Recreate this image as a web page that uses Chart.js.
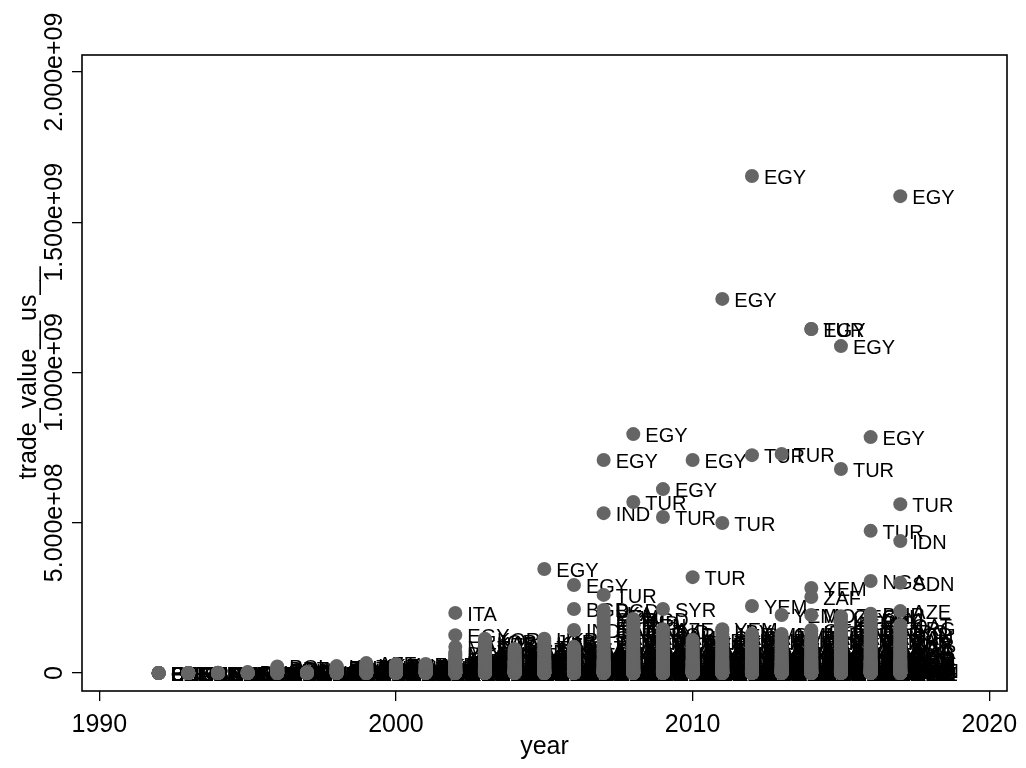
<!DOCTYPE html>
<html>
<head>
<meta charset="utf-8">
<script src="https://cdn.jsdelivr.net/npm/chart.js@4/dist/chart.umd.min.js"></script>
<style>
html,body{margin:0;padding:0;background:#fff;}
#wrap{width:1026px;height:768px;position:relative;}
</style>
</head>
<body>
<div id="wrap"><canvas id="c" width="1026" height="768"></canvas></div>
<script>
// ---- data (values in US$ millions) ----
const UNIT = 1e6;
const years = [1992,1993,1994,1995,1996,1997,1998,1999,2000,2001,2002,2003,2004,2005,2006,2007,2008,2009,2010,2011,2012,2013,2014,2015,2016,2017];

// dense low-value cluster, one list per year
const lowValues = [
  [0,0,0,0,0,0,0,0,0,0],
  [0,0,0,0,0,0,0,0,0,0],
  [0,0,0,0,0,0,0,0,1,1],
  [0,0,0,0,0,0,1,1,2,3],
  [0,0,0,0,0,1,1,2,3,4,6,7,9,11,13,16,22],
  [0,0,0,0,0,0,1,1,2,3],
  [0,0,0,0,0,1,1,2,3,4,6,7,9,11,13,16,19,23],
  [0,0,0,0,0,1,1,2,3,4,6,7,9,11,13,16,19,23,28,33],
  [0,0,0,0,0,1,1,2,3,4,6,7,9,11,13,16,19,23,26,30],
  [0,0,0,0,0,1,1,2,3,4,6,7,9,11,13,16,19,23,26,30],
  [0,0,0,0,0,0,1,1,1,2,2,3,4,5,6,8,9,11,12,14,17,19,21,23,26,30,33,36,38,42,47,51,57,62,68],
  [0,0,0,0,0,0,1,1,1,2,2,3,4,5,6,8,9,11,12,14,17,19,21,23,26,30,33,36,39,43,47,52,57,62,68,74,81,88,95,101,107,114],
  [0,0,0,0,0,0,1,1,1,2,2,3,4,5,6,7,9,10,12,14,16,19,21,24,26,29,33,36,38,42,47,51,56,62,68,74,80],
  [0,0,0,0,0,0,1,1,1,2,2,3,4,5,6,8,9,11,12,14,17,19,21,23,26,30,33,36,38,42,47,51,57,62,68,74,81,88,95,101,107,114],
  [0,0,0,0,0,0,1,1,1,2,2,3,4,5,6,8,9,11,13,14,17,19,22,23,26,30,33,35,38,42,46,51,57,62,68,74,80,87],
  [0,0,0,0,0,0,1,1,1,2,2,3,4,5,6,8,9,11,12,14,17,19,21,23,26,30,33,36,38,42,47,51,57,62,68,74,81,88,95,103,111,120,130,140,150,160,170,180,190,200,210],
  [0,0,0,0,0,0,1,1,1,2,2,3,4,5,6,8,9,11,12,14,17,19,21,23,26,30,33,36,38,42,47,51,57,62,68,74,81,88,95,103,111,120,130,140,150,160,170,180],
  [0,0,0,0,0,0,1,1,1,2,2,3,4,5,6,8,9,11,12,14,17,19,21,24,26,30,33,36,39,42,47,52,57,62,68,74,81,88,95,103,111,120,130,139,146],
  [0,0,0,0,0,0,1,1,1,2,2,3,4,5,6,8,9,11,12,14,17,19,21,23,26,30,33,36,38,42,47,51,57,62,68,74,81,88,95,103,110],
  [0,0,0,0,0,0,1,1,1,2,2,3,4,5,6,8,9,11,12,14,17,19,21,23,26,30,33,36,38,42,47,51,57,62,68,74,81,88,95,103,111,120,130,139,146],
  [0,0,0,0,0,0,1,1,1,2,2,3,4,5,6,8,9,11,12,14,17,19,21,23,26,30,33,36,38,42,47,51,57,62,68,74,81,88,95,103,111,120,130],
  [0,0,0,0,0,0,1,1,1,2,2,3,4,5,6,8,9,10,12,14,16,19,21,23,27,30,33,36,38,43,47,51,56,62,68,74,81,88,95,103,111,120,130],
  [0,0,0,0,0,0,1,1,1,2,2,3,4,5,6,8,9,11,12,14,17,19,21,23,26,30,33,36,38,42,47,51,57,62,68,74,81,88,95,103,111,120,130,138,143],
  [0,0,0,0,0,0,1,1,1,2,2,3,4,5,6,8,9,11,12,14,17,19,21,23,26,30,33,36,38,42,47,51,57,62,68,74,81,88,95,103,111,120,130,140,150,160,170,180,189],
  [0,0,0,0,0,0,1,1,1,2,2,3,4,5,6,8,9,11,12,14,17,19,21,23,26,30,33,36,38,42,47,51,57,62,68,74,81,88,95,103,111,120,130,140,150,160,170,180,190,197],
  [0,0,0,0,0,0,1,1,1,2,2,3,4,5,6,8,9,11,12,14,17,19,21,23,26,30,33,36,38,42,47,51,57,62,68,74,81,88,95,103,111,120,130,140,150,160]
];
const lowCodes = [
  "BIH BLR BEL BGR BRA CAN CZE DNK EST FIN",
  "BEL CZE DEU ESP FRA GBR ITA SVK SVN HRV",
  "AUT BEL DEU FRA GBR ITA NLD SWE NOR DNK",
  "BEL CAN CHE DEU ESP FRA ITA NLD POL HUN",
  "AUT BEL CHE CZE DEU ESP FRA GBR ITA NLD SWE HUN ROU SVK GRC PRT POL",
  "BEL DEU ESP FRA GBR ITA NLD SWE POL HUN",
  "AUT BEL CHE CZE DEU ESP FRA GBR ITA NLD SWE HUN ROU SVK GRC PRT RUS KAZ",
  "AUT BEL CHE CZE DEU ESP FRA GBR ITA NLD SWE HUN ROU SVK GRC PRT RUS KAZ UKR AZE",
  "ARG AUT BEL CHE DEU ESP FRA GBR ITA NLD SWE HUN ROU SVK GRC PRT RUS UKR TUN KAZ",
  "ARG AUT BEL CHE DEU ESP FRA GBR ITA NLD SWE HUN ROU SVK GRC PRT RUS KAZ UKR AZE",
  "ARG AUS AUT BEL BRA CAN CHE CHN DEU ESP FRA GBR IRN JPN RUS NLD SWE NOR DNK FIN POL CZE HUN ROU SVK GRC PRT IRL ISR LBN ARE OMN KWT MEX DZA",
  "NLD SWE NOR DNK FIN POL CZE HUN ROU SVK GRC PRT IRL ISR LBN ARE OMN KWT MEX ITA ARG AUS AUT BEL BRA CAN CHE CHN DEU ESP FRA GBR IRN JPN RUS MAR DZA TUN UZB KAZ JOR KOR",
  "ARG AUS AUT BEL BRA CAN CHE CHN DEU ESP FRA GBR IRN JPN RUS NLD SWE NOR DNK FIN POL CZE HUN ROU SVK GRC PRT IRL ISR LBN ARE OMN KWT MEX ITA UZB KAZ",
  "NLD SWE NOR DNK FIN POL CZE HUN ROU SVK GRC PRT IRL ISR LBN ARE OMN KWT MEX ITA ARG AUS AUT BEL BRA CAN CHE CHN DEU ESP FRA GBR IRN JPN RUS MAR DZA TUN UZB KAZ JOR UKR",
  "ARG AUS AUT BEL BRA CAN CHE CHN DEU ESP FRA GBR IRN JPN RUS NLD SWE NOR DNK FIN POL CZE HUN ROU SVK GRC PRT IRL ISR LBN ARE OMN KWT MEX ITA MAR DZA KAZ",
  "NLD SWE NOR DNK FIN POL CZE HUN ROU SVK GRC PRT IRL ISR LBN ARE OMN KWT MEX ITA ARG AUS AUT BEL BRA CAN CHE CHN DEU ESP FRA GBR IRN JPN RUS MAR DZA KAZ UKR THA PAK SAU JOR QAT IRQ KEN ETH SYR YEM LKA BGD",
  "ARG AUS AUT BEL BRA CAN CHE CHN DEU ESP FRA GBR IRN JPN RUS NLD SWE NOR DNK FIN POL CZE HUN ROU SVK GRC PRT IRL ISR LBN ARE OMN KWT MEX ITA MAR DZA KAZ UKR THA PAK SAU JOR QAT IRQ KEN IND BGD",
  "NLD SWE NOR DNK FIN POL CZE HUN ROU SVK GRC PRT IRL ISR LBN ARE OMN KWT MEX ITA ARG AUS AUT BEL BRA CAN CHE CHN DEU ESP FRA GBR IRN JPN RUS MAR DZA KAZ UKR THA PAK SAU JOR IND AZE",
  "ARG AUS AUT BEL BRA CAN CHE CHN DEU ESP FRA GBR IRN JPN RUS NLD SWE NOR DNK FIN POL CZE HUN ROU SVK GRC PRT IRL ISR LBN ARE OMN KWT MEX ITA MAR DZA KAZ UKR THA AZE",
  "NLD SWE NOR DNK FIN POL CZE HUN ROU SVK GRC PRT IRL ISR LBN ARE OMN KWT MEX ITA ARG AUS AUT BEL BRA CAN CHE CHN DEU ESP FRA GBR IRN JPN RUS MAR DZA KAZ UKR THA PAK SAU JOR LBY YEM",
  "ARG AUS AUT BEL BRA CAN CHE CHN DEU ESP FRA GBR IRN JPN RUS NLD SWE NOR DNK FIN POL CZE HUN ROU SVK GRC PRT IRL ISR LBN ARE OMN KWT MEX ITA MAR DZA KAZ UKR THA PAK SAU OMN",
  "NLD SWE NOR DNK FIN POL CZE HUN ROU SVK GRC PRT IRL ISR LBN ARE OMN KWT MEX ITA ARG AUS AUT BEL BRA CAN CHE CHN DEU ESP FRA GBR IRN JPN RUS MAR DZA KAZ UKR THA PAK JOR OMN",
  "ARG AUS AUT BEL BRA CAN CHE CHN DEU ESP FRA GBR IRN JPN RUS NLD SWE NOR DNK FIN POL CZE HUN ROU SVK GRC PRT IRL ISR LBN ARE OMN KWT MEX ITA MAR DZA KAZ UKR THA PAK SAU JOR IRQ GEO",
  "NLD SWE NOR DNK FIN POL CZE HUN ROU SVK GRC PRT IRL ISR LBN ARE OMN KWT MEX ITA ARG AUS AUT BEL BRA CAN CHE CHN DEU ESP FRA GBR IRN JPN RUS MAR DZA KAZ UKR THA PAK SAU JOR QAT IRQ KEN IND LBY GEO",
  "ARG AUS AUT BEL BRA CAN CHE CHN DEU ESP FRA GBR IRN JPN RUS NLD SWE NOR DNK FIN POL CZE HUN ROU SVK GRC PRT IRL ISR LBN ARE OMN KWT MEX ITA MAR DZA KAZ UKR THA PAK SAU JOR QAT IRQ KEN IND LBY SAU BHR",
  "NLD SWE NOR DNK FIN POL CZE HUN ROU SVK GRC PRT IRL ISR LBN ARE OMN KWT MEX ITA ARG AUS AUT BEL BRA CAN CHE CHN DEU ESP FRA GBR IRN JPN RUS MAR DZA KAZ UKR THA PAK SAU JOR IRQ ARG QAT"
];

// labelled high-value observations
const outYear  = [2002,2002,2002,2005,2006,2006,2006,2007,2007,2007,2008,2008,2009,2009,2009,2010,2010,2011,2011,2012,2012,2012,2013,2013,2014,2014,2014,2014,2014,2015,2015,2016,2016,2016,2017,2017,2017,2017,2017];
const outValue = [87,126,200,346,143,213,293,260,532,709,569,795,213,519,612,319,709,499,1245,223,725,1654,193,729,193,253,283,1145,1145,679,1088,306,473,785,206,300,439,562,1587];
const outCode  = ["MAR","EGY","ITA","EGY","IND","BGD","EGY","TUR","IND","EGY","TUR","EGY","SYR","TUR","EGY","TUR","EGY","TUR","EGY","YEM","TUR","EGY","YEM","TUR","MOZ","ZAF","YEM","EGY","TUR","TUR","EGY","NGA","TUR","EGY","AZE","SDN","IDN","TUR","EGY"];

const xTicks = [1990, 2000, 2010, 2020];
const yTicks = [0, 5e8, 1e9, 1.5e9, 2e9];
const yTickLabels = ["0", "5.000e+08", "1.000e+09", "1.500e+09", "2.000e+09"];
const xTitle = "year";
const yTitle = "trade_value__us__";

// ---- build points ----
const points = [];
years.forEach((yr, i) => {
  const codes = lowCodes[i].split(" ");
  lowValues[i].forEach((v, j) => points.push({x: yr, y: v * UNIT, code: codes[j] || ""}));
});
outYear.forEach((yr, i) => points.push({x: yr, y: outValue[i] * UNIT, code: outCode[i]}));

const FONT = "'Liberation Sans', Arial, Helvetica, sans-serif";

const stataPlugin = {
  id: 'stata',
  beforeDatasetsDraw(chart) {
    const ctx = chart.ctx;
    const meta = chart.getDatasetMeta(0);
    const data = chart.data.datasets[0].data;
    ctx.save();
    ctx.font = "20px " + FONT;
    ctx.fillStyle = '#000';
    ctx.textAlign = 'left';
    ctx.textBaseline = 'alphabetic';
    meta.data.forEach((el, i) => {
      ctx.fillText(data[i].code, el.x + 12, el.y + 8);
    });
    ctx.restore();
  },
  afterDraw(chart) {
    const ctx = chart.ctx;
    const a = chart.chartArea;
    const xs = chart.scales.x, ys = chart.scales.y;
    ctx.save();
    ctx.strokeStyle = '#000';
    ctx.lineWidth = 1.6;
    ctx.strokeRect(a.left, a.top, a.right - a.left, a.bottom - a.top);
    ctx.fillStyle = '#000';
    ctx.font = "25px " + FONT;
    ctx.textAlign = 'center';
    ctx.textBaseline = 'alphabetic';
    xTicks.forEach(v => ctx.fillText(String(v), xs.getPixelForValue(v), 732));
    yTicks.forEach((v, i) => {
      ctx.save();
      ctx.translate(62, ys.getPixelForValue(v));
      ctx.rotate(-Math.PI / 2);
      ctx.fillText(yTickLabels[i], 0, 0);
      ctx.restore();
    });
    ctx.fillText(xTitle, (a.left + a.right) / 2, 754);
    ctx.save();
    ctx.translate(36, (a.top + a.bottom) / 2);
    ctx.rotate(-Math.PI / 2);
    ctx.fillText(yTitle, 0, 0);
    ctx.restore();
    ctx.restore();
  }
};

new Chart(document.getElementById('c'), {
  type: 'scatter',
  data: {
    datasets: [{
      data: points,
      pointRadius: 7,
      pointHoverRadius: 7,
      pointBackgroundColor: '#656565',
      pointBorderWidth: 0,
      borderColor: '#656565'
    }]
  },
  options: {
    responsive: false,
    animation: false,
    devicePixelRatio: 1,
    events: [],
    layout: { padding: { top: 55, right: 19, left: 0, bottom: 0 } },
    plugins: { legend: { display: false }, tooltip: { enabled: false } },
    scales: {
      x: {
        type: 'linear',
        min: 1989.417,
        max: 2020.597,
        afterBuildTicks: s => { s.ticks = xTicks.map(v => ({ value: v })); },
        afterFit: s => { s.height = 77; },
        ticks: { callback: () => '', padding: 0, font: { size: 1 } },
        grid: { drawOnChartArea: false, drawTicks: true, tickLength: 10, color: '#000', lineWidth: 1.3 },
        border: { display: false }
      },
      y: {
        type: 'linear',
        min: -5.99e7,
        max: 2.0567e9,
        afterBuildTicks: s => { s.ticks = yTicks.map(v => ({ value: v })); },
        afterFit: s => { s.width = 82; },
        ticks: { callback: () => '', padding: 0, font: { size: 1 } },
        grid: { drawOnChartArea: false, drawTicks: true, tickLength: 10, color: '#000', lineWidth: 1.3 },
        border: { display: false }
      }
    }
  },
  plugins: [stataPlugin]
});
</script>
</body>
</html>
